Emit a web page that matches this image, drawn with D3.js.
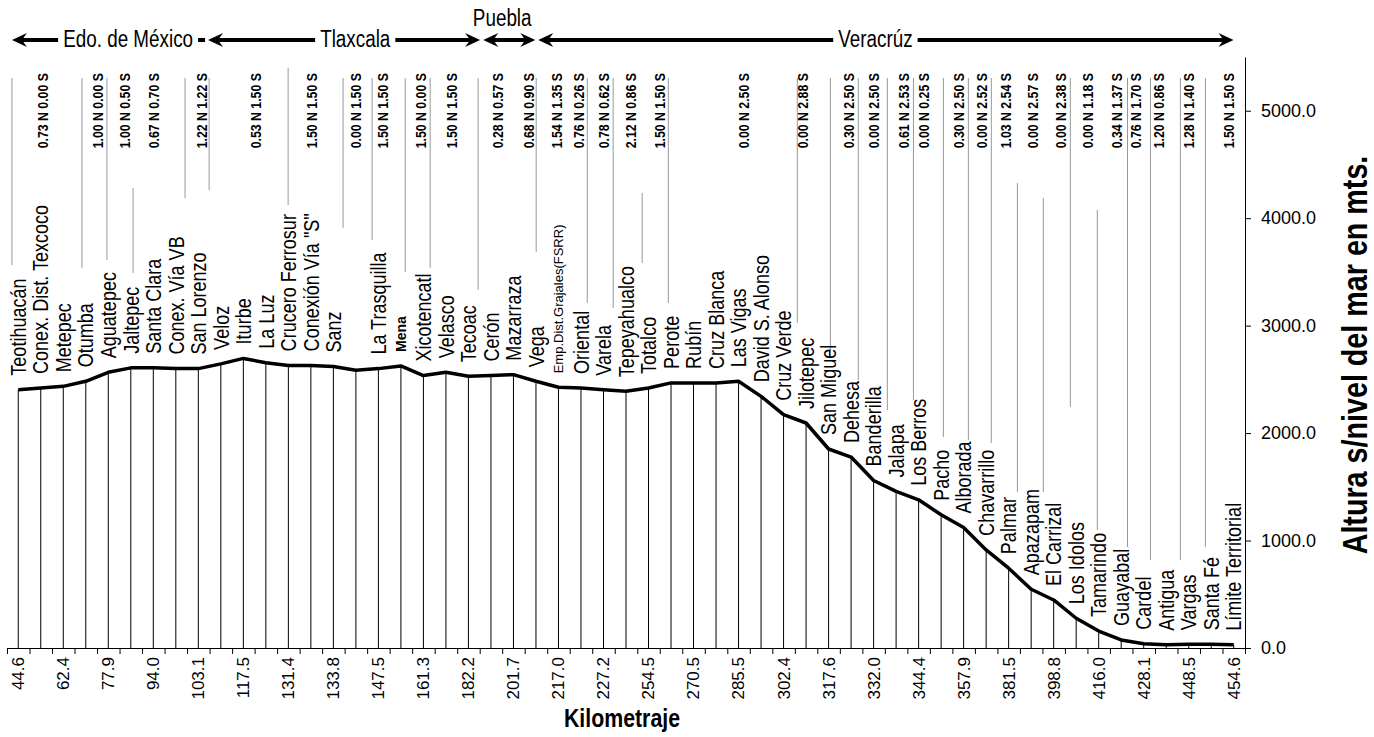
<!DOCTYPE html>
<html><head><meta charset="utf-8">
<script src="https://cdn.jsdelivr.net/npm/d3@7"></script>
<style>body{margin:0;background:#fff}svg{display:block}</style>
</head><body>
<svg id="chart" width="1374" height="737"></svg>
<script>
// ---------------- data ----------------
const stations = ["Teotihuacán","Conex. Dist. Texcoco","Metepec","Otumba","Aguatepec","Jaltepec","Santa Clara","Conex. Vía VB","San Lorenzo","Veloz","Iturbe","La Luz","Crucero Ferrosur","Conexión Vía \"S\"","Sanz","","La Trasquilla","Mena","Xicotencatl","Velasco","Tecoac","Cerón","Mazarraza","Vega","Emp.Dist.Grajales(FSRR)","Oriental","Varela","Tepeyahualco","Totalco","Perote","Rubín","Cruz Blanca","Las Vigas","David S. Alonso","Cruz Verde","Jilotepec","San Miguel","Dehesa","Banderilla","Jalapa","Los Berros","Pacho","Alborada","Chavarrillo","Palmar","Apazapam","El Carrizal","Los Idolos","Tamarindo","Guayabal","Cardel","Antigua","Vargas","Santa Fé","Límite Territorial"];
const elevations = [2404,2420,2435,2482,2566,2607,2607,2600,2600,2644,2695,2655,2630,2630,2620,2584,2600,2625,2535,2566,2529,2535,2544,2482,2426,2420,2404,2389,2420,2467,2467,2467,2482,2342,2171,2094,1852,1777,1559,1457,1379,1240,1121,913,743,547,447,277,158,75,40,30,35,35,30];
const kmLabels = ["44.6","62.4","77.9","94.0","103.1","117.5","131.4","133.8","147.5","161.3","182.2","201.7","217.0","227.2","254.5","270.5","285.5","302.4","317.6","332.0","344.4","357.9","381.5","398.8","416.0","428.1","448.5","454.6"];
const yTicks = [0,1000,2000,3000,4000,5000];
const gradeText = ["0.73 N 0.00 S","1.00 N 0.00 S","1.00 N 0.50 S","0.67 N 0.70 S","1.22 N 1.22 S","0.53 N 1.50 S","1.50 N 1.50 S","0.00 N 1.50 S","1.50 N 1.50 S","1.50 N 0.00 S","1.50 N 1.50 S","0.28 N 0.57 S","0.68 N 0.90 S","1.54 N 1.35 S","0.76 N 0.26 S","0.78 N 0.62 S","2.12 N 0.86 S","1.50 N 1.50 S","0.00 N 2.50 S","0.00 N 2.88 S","0.30 N 2.50 S","0.00 N 2.50 S","0.61 N 2.53 S","0.00 N 0.25 S","0.30 N 2.50 S","0.00 N 2.52 S","1.03 N 2.54 S","0.00 N 2.57 S","0.00 N 2.38 S","0.00 N 1.18 S","0.34 N 1.37 S","0.76 N 1.70 S","1.20 N 0.86 S","1.28 N 1.40 S","1.50 N 1.50 S"];
const gradeAt = [1.1,3.54,4.74,6.03,8.17,10.57,13.06,15.01,16.21,17.9,19.28,21.28,22.66,23.94,24.88,26.03,27.19,28.48,32.21,34.83,36.88,37.99,39.32,40.21,41.77,42.79,43.86,45.06,46.3,47.5,48.79,49.63,50.66,51.99,53.77];
const leaderAt = [-0.28,2.83,3.94,5.1,7.41,8.48,11.99,14.43,15.72,17.19,18.3,20.43,23.01,25.28,26.43,27.72,28.88,34.61,36.08,37.32,38.61,39.77,41.1,42.21,43.23,44.39,45.54,46.74,47.94,49.28,50.3,51.63,52.74];
const leaderTop = [5305,5305,5305,4281,5305,5305,5398,5305,5305,5305,5305,5305,5305,5305,5305,4235,5305,5305,5305,5305,5305,5305,5305,5305,5305,4328,4188,5305,4076,5305,5305,5305,5305];
const leaderBottom = [3564,3537,3611,3490,4188,4262,4123,3909,3797,3499,3537,3332,3685,3211,3164,3583,3211,3025,2773,2494,2215,2308,1964,1936,1908,1452,1452,2243,1098,940,819,819,940];
const stateNames = ["Edo. de México","Tlaxcala","Puebla","Veracrúz"];
const stateFrom = [-0.28,8.43,20.66,23.1];
const stateTo = [8.3,20.52,22.97,53.99];
const stateLabelAt = [4.88,14.97,21.5,38.08];

// ---------------- drawing ----------------
const svg = d3.select("#chart");
const SANS = "'Liberation Sans', Arial, Helvetica, sans-serif";
const NARROW = 0.82;
const x = d3.scaleLinear().domain([-0.5, 54.5]).range([7, 1245]);
const y = d3.scaleLinear().domain([0, 5500]).range([648, 57]);

// thin leader lines
svg.append("g").selectAll("line").data(leaderAt).join("line")
  .attr("x1", d => x(d)).attr("x2", d => x(d))
  .attr("y1", (d, i) => y(leaderTop[i])).attr("y2", (d, i) => y(leaderBottom[i]))
  .attr("stroke", "#8c8c8c").attr("stroke-width", 0.9);

// drop lines
svg.append("g").selectAll("line").data(elevations).join("line")
  .attr("x1", (d, i) => x(i)).attr("x2", (d, i) => x(i))
  .attr("y1", d => y(d)).attr("y2", y(0))
  .attr("stroke", "#000").attr("stroke-width", 1);

// elevation profile
svg.append("path").datum(elevations)
  .attr("d", d3.line().x((d, i) => x(i)).y(d => y(d)))
  .attr("fill", "none").attr("stroke", "#000").attr("stroke-width", 3.5)
  .attr("stroke-linejoin", "round");

// x axis
const xAxis = d3.axisBottom(x).tickValues(d3.range(56).map(i => i - 0.5))
  .tickFormat("").tickSize(6).tickSizeOuter(0);
svg.append("g").attr("transform", `translate(0,${y(0)})`).call(xAxis);

svg.append("g").selectAll("text").data(kmLabels).join("text")
  .attr("transform", (d, i) => `translate(${x(2 * i)},${y(0) + 9}) rotate(-90)`)
  .attr("text-anchor", "end").attr("dy", "0.35em")
  .style("font-family", SANS).style("font-size", "17px").text(d => d);

// y axis (right)
const yAxis = d3.axisRight(y).tickValues(yTicks).tickFormat(d3.format(".1f"))
  .tickSize(6).tickSizeOuter(0).tickPadding(10);
const gy = svg.append("g").attr("transform", `translate(${x.range()[1]},0)`).call(yAxis);
gy.selectAll("text").style("font-family", SANS).style("font-size", "18px");

// axis titles
svg.append("text").attr("transform", `translate(622,727) scale(${NARROW},1)`)
  .attr("text-anchor", "middle").style("font-family", SANS).style("font-weight", "bold")
  .style("font-size", "26px").text("Kilometraje");
svg.append("text").attr("transform", `translate(1367,355) rotate(-90) scale(${NARROW},1)`)
  .attr("text-anchor", "middle").style("font-family", SANS).style("font-weight", "bold")
  .style("font-size", "35px").text("Altura s/nivel del mar en mts.");

// station labels
function labelStyle(name) {
  if (name === "Mena") return {size: 14, weight: "bold", sc: 1};
  if (name.startsWith("Emp.")) return {size: 13, weight: "normal", sc: 1};
  return {size: 22, weight: "normal", sc: NARROW};
}
svg.append("g").selectAll("text").data(stations).join("text")
  .attr("transform", (d, i) => `translate(${x(i)},${y(elevations[i]) - 14}) rotate(-90) scale(${labelStyle(d).sc},1)`)
  .attr("dy", "0.35em")
  .style("font-family", SANS)
  .style("font-size", d => labelStyle(d).size + "px")
  .style("font-weight", d => labelStyle(d).weight)
  .text(d => d);

// grade labels
svg.append("g").selectAll("text").data(gradeText).join("text")
  .attr("transform", (d, i) => `translate(${x(gradeAt[i])},${y(5350)}) rotate(-90) scale(${NARROW},1)`)
  .attr("text-anchor", "end").attr("dy", "0.35em")
  .style("font-family", SANS).style("font-weight", "bold").style("font-size", "15px")
  .text(d => d);

// state header
const hdr = svg.append("g");
const lineY = 40;
function arrowHead(tipX, dir) {
  const L = 15, h = 7, n = 10;
  hdr.append("path")
    .attr("d", `M${tipX},${lineY} L${tipX - dir * L},${lineY - h} L${tipX - dir * n},${lineY} L${tipX - dir * L},${lineY + h} Z`)
    .attr("fill", "#000");
}
stateNames.forEach((name, i) => {
  const x0 = x(stateFrom[i]), x1 = x(stateTo[i]);
  const t = hdr.append("text")
    .style("font-family", SANS).style("font-size", "23px").text(name);
  const w = t.node().getComputedTextLength() * NARROW;
  const cx = x(stateLabelAt[i]);
  const inline = w < (x1 - x0) - 20;
  t.attr("text-anchor", "middle")
   .attr("transform", `translate(${cx},${inline ? 47 : 26}) scale(${NARROW},1)`);
  const hasRight = i > 0;
  const lx0 = x0 + 8, lx1 = hasRight ? x1 - 8 : x1;
  if (inline) {
    const pad = 5;
    hdr.append("line").attr("x1", lx0).attr("x2", cx - w / 2 - pad)
      .attr("y1", lineY).attr("y2", lineY).attr("stroke", "#000").attr("stroke-width", 4);
    hdr.append("line").attr("x1", cx + w / 2 + pad).attr("x2", lx1)
      .attr("y1", lineY).attr("y2", lineY).attr("stroke", "#000").attr("stroke-width", 4);
  } else {
    hdr.append("line").attr("x1", lx0).attr("x2", lx1)
      .attr("y1", lineY).attr("y2", lineY).attr("stroke", "#000").attr("stroke-width", 4);
  }
  arrowHead(x0, -1);
  if (hasRight) arrowHead(x1, 1);
});
</script>
</body></html>
